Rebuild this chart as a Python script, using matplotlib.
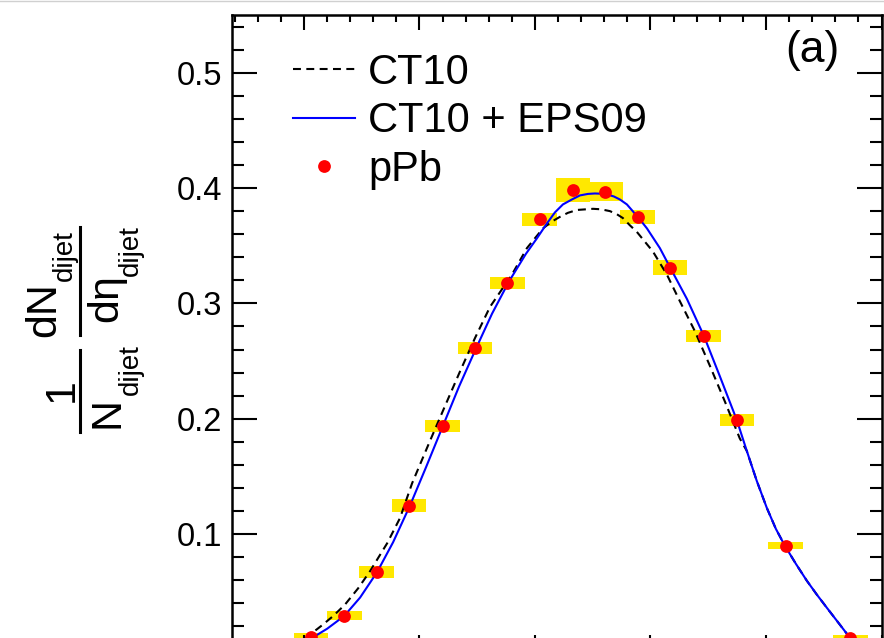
import numpy as np
import matplotlib
matplotlib.use("Agg")
import matplotlib.pyplot as plt
from matplotlib.ticker import MultipleLocator, FormatStrFormatter
from matplotlib.lines import Line2D

plt.rcParams['font.family'] = ['Liberation Sans', 'DejaVu Sans']
plt.rcParams['mathtext.fontset'] = 'custom'
plt.rcParams['mathtext.rm'] = 'Liberation Sans'
plt.rcParams['mathtext.it'] = 'Liberation Sans'
plt.rcParams['mathtext.bf'] = 'Liberation Sans:bold'

# pPb data: dijet pseudorapidity bins, normalised yield, systematic half-heights
eta_data = [-1.94, -1.65, -1.37, -1.09, -0.80, -0.52, -0.24, 0.04,
            0.33, 0.61, 0.89, 1.17, 1.46, 1.75, 2.17, 2.73]
yield_data = [0.0105, 0.0294, 0.0675, 0.1246, 0.194, 0.261, 0.318, 0.373,
              0.398, 0.397, 0.375, 0.331, 0.272, 0.199, 0.090, 0.0104]
syst_data = [0.0035, 0.0036, 0.0051, 0.0055, 0.0052, 0.0052, 0.0052, 0.0058,
             0.0103, 0.0079, 0.0064, 0.0065, 0.0052, 0.0052, 0.0030, 0.0026]
box_width = 0.3

# NLO predictions
eta_ct10 = [-2.05, -1.946, -1.843, -1.747, -1.644, -1.531, -1.427, -1.280,
            -1.168, -1.064, -0.908, -0.779, -0.649, -0.519, -0.389, -0.199,
            -0.069, 0.069, 0.147, 0.216, 0.285, 0.363, 0.433, 0.502, 0.571,
            0.649, 0.709, 0.761, 0.822, 0.882, 1.021, 1.142, 1.254, 1.384,
            1.514, 1.644, 1.773, 1.834, 1.920, 2.007, 2.085, 2.163, 2.258,
            2.353, 2.440, 2.526, 2.699, 2.83]
ct10 = [0.0035, 0.013, 0.021, 0.029, 0.039, 0.053, 0.068, 0.092,
        0.114, 0.144, 0.181, 0.211, 0.241, 0.270, 0.297, 0.325,
        0.348, 0.365, 0.371, 0.375, 0.3785, 0.381, 0.3815, 0.382, 0.3816,
        0.380, 0.3773, 0.374, 0.3677, 0.362, 0.345, 0.325, 0.302, 0.276,
        0.246, 0.215, 0.183, 0.1721, 0.1462, 0.1228, 0.1047, 0.0900, 0.0744,
        0.0597, 0.0476, 0.0363, 0.0138, 0.0035]

eta_eps09 = [-2.05, -1.938, -1.799, -1.652, -1.514, -1.367, -1.228, -1.081,
             -0.943, -0.796, -0.657, -0.510, -0.372, -0.225, -0.078, 0.017,
             0.104, 0.173, 0.242, 0.320, 0.389, 0.458, 0.519, 0.571, 0.623,
             0.683, 0.735, 0.796, 0.848, 0.908, 0.969, 1.081, 1.176, 1.315,
             1.462, 1.600, 1.747, 1.834, 1.920, 2.007, 2.085, 2.163, 2.258,
             2.353, 2.440, 2.526, 2.699, 2.83]
ct10_eps09 = [0.002, 0.0095, 0.018, 0.029, 0.045, 0.067, 0.093, 0.125,
              0.158, 0.194, 0.228, 0.261, 0.291, 0.319, 0.343, 0.3564,
              0.3694, 0.3789, 0.3858, 0.3901, 0.3936, 0.3949, 0.3953, 0.3951,
              0.3945, 0.3927, 0.3901, 0.3858, 0.3798, 0.3728, 0.3651, 0.348,
              0.330, 0.304, 0.272, 0.237, 0.199, 0.1721, 0.1462, 0.1228,
              0.1047, 0.0900, 0.0744, 0.0597, 0.0476, 0.0363, 0.0138, 0.0035]

W, H = 884, 638
fig = plt.figure(figsize=(W / 100, H / 100), dpi=100)
ax = fig.add_axes([231.5 / W, -11.5 / H, 650 / W, 634.5 / H])

yd = np.array(yield_data)
sd = np.array(syst_data)
ax.bar(eta_data, 2 * sd, bottom=yd - sd, width=box_width,
       color='#ffe800', edgecolor='none', zorder=1)
ax.plot(eta_ct10, ct10, color='black', lw=1.5, dashes=(3.8, 2.6),
        zorder=2, label='CT10')
ax.plot(eta_eps09, ct10_eps09, color='#0000ff', lw=1.5, zorder=3,
        label='CT10 + EPS09')
ax.plot(eta_data, yield_data, 'o', color='#ff0000', ms=9.2, mec='none',
        zorder=4, label='pPb')

ax.set_xlim(-2.627, 3.0)
ax.set_ylim(0, 0.55)
ax.xaxis.set_major_locator(MultipleLocator(1))
ax.xaxis.set_minor_locator(MultipleLocator(0.2))
ax.yaxis.set_major_locator(MultipleLocator(0.1))
ax.yaxis.set_minor_locator(MultipleLocator(0.02))
ax.tick_params(which='both', direction='in', top=True, right=True,
               width=1.5, labelbottom=False)
ax.tick_params(axis='y', which='major', length=18, labelsize=23.5, pad=6.8)
ax.tick_params(axis='y', which='minor', length=8.6)
ax.tick_params(axis='x', which='major', length=10.8)
ax.tick_params(axis='x', which='minor', length=5)
ax.set_yticks([0.1, 0.2, 0.3, 0.4, 0.5])
ax.yaxis.set_major_formatter(FormatStrFormatter('%.1f'))
for s in ax.spines.values():
    s.set_linewidth(1.8)


# y title built ROOT-style: two stacked fractions, rotated.
# each piece: text, baseline x (px), position along the text (px), align, size
def px(x, y):
    return x / W, 1 - y / H


title_parts = [
    ('1', 73, 390, 'center', 31),
    ('N', 118, 413, 'center', 31),
    ('dijet', 138, 395, 'left', 20),
    ('dN', 55, 310, 'center', 31),
    ('dijet', 72, 281, 'left', 20),
    (r'd$\eta$', 119, 300, 'center', 31),
    ('dijet', 138, 276, 'left', 20),
]
for txt, bx, by, ha, fs in title_parts:
    fig.text(*px(bx, by), txt, fontsize=fs, rotation=90,
             rotation_mode='anchor', ha=ha, va='baseline')
for y0, y1 in [(350, 432), (227, 335)]:
    fig.add_artist(Line2D([80 / W, 80 / W], [1 - y0 / H, 1 - y1 / H],
                          transform=fig.transFigure, color='black', lw=2.2))

leg = ax.legend(loc='upper left', bbox_to_anchor=(0.0946, 0.940),
                frameon=False, fontsize=30, handlelength=1.5,
                handletextpad=0.3, labelspacing=0.2, borderpad=0,
                borderaxespad=0, numpoints=1)

ax.text(0.935, 0.976, '(a)', transform=ax.transAxes, fontsize=32,
        ha='right', va='top')

# thin grey rule along the top edge
fig.add_artist(Line2D([0, 1], [0.999, 0.999], transform=fig.transFigure,
                      color='#d0d0d0', lw=1))

fig.savefig('out.png', dpi=100)
